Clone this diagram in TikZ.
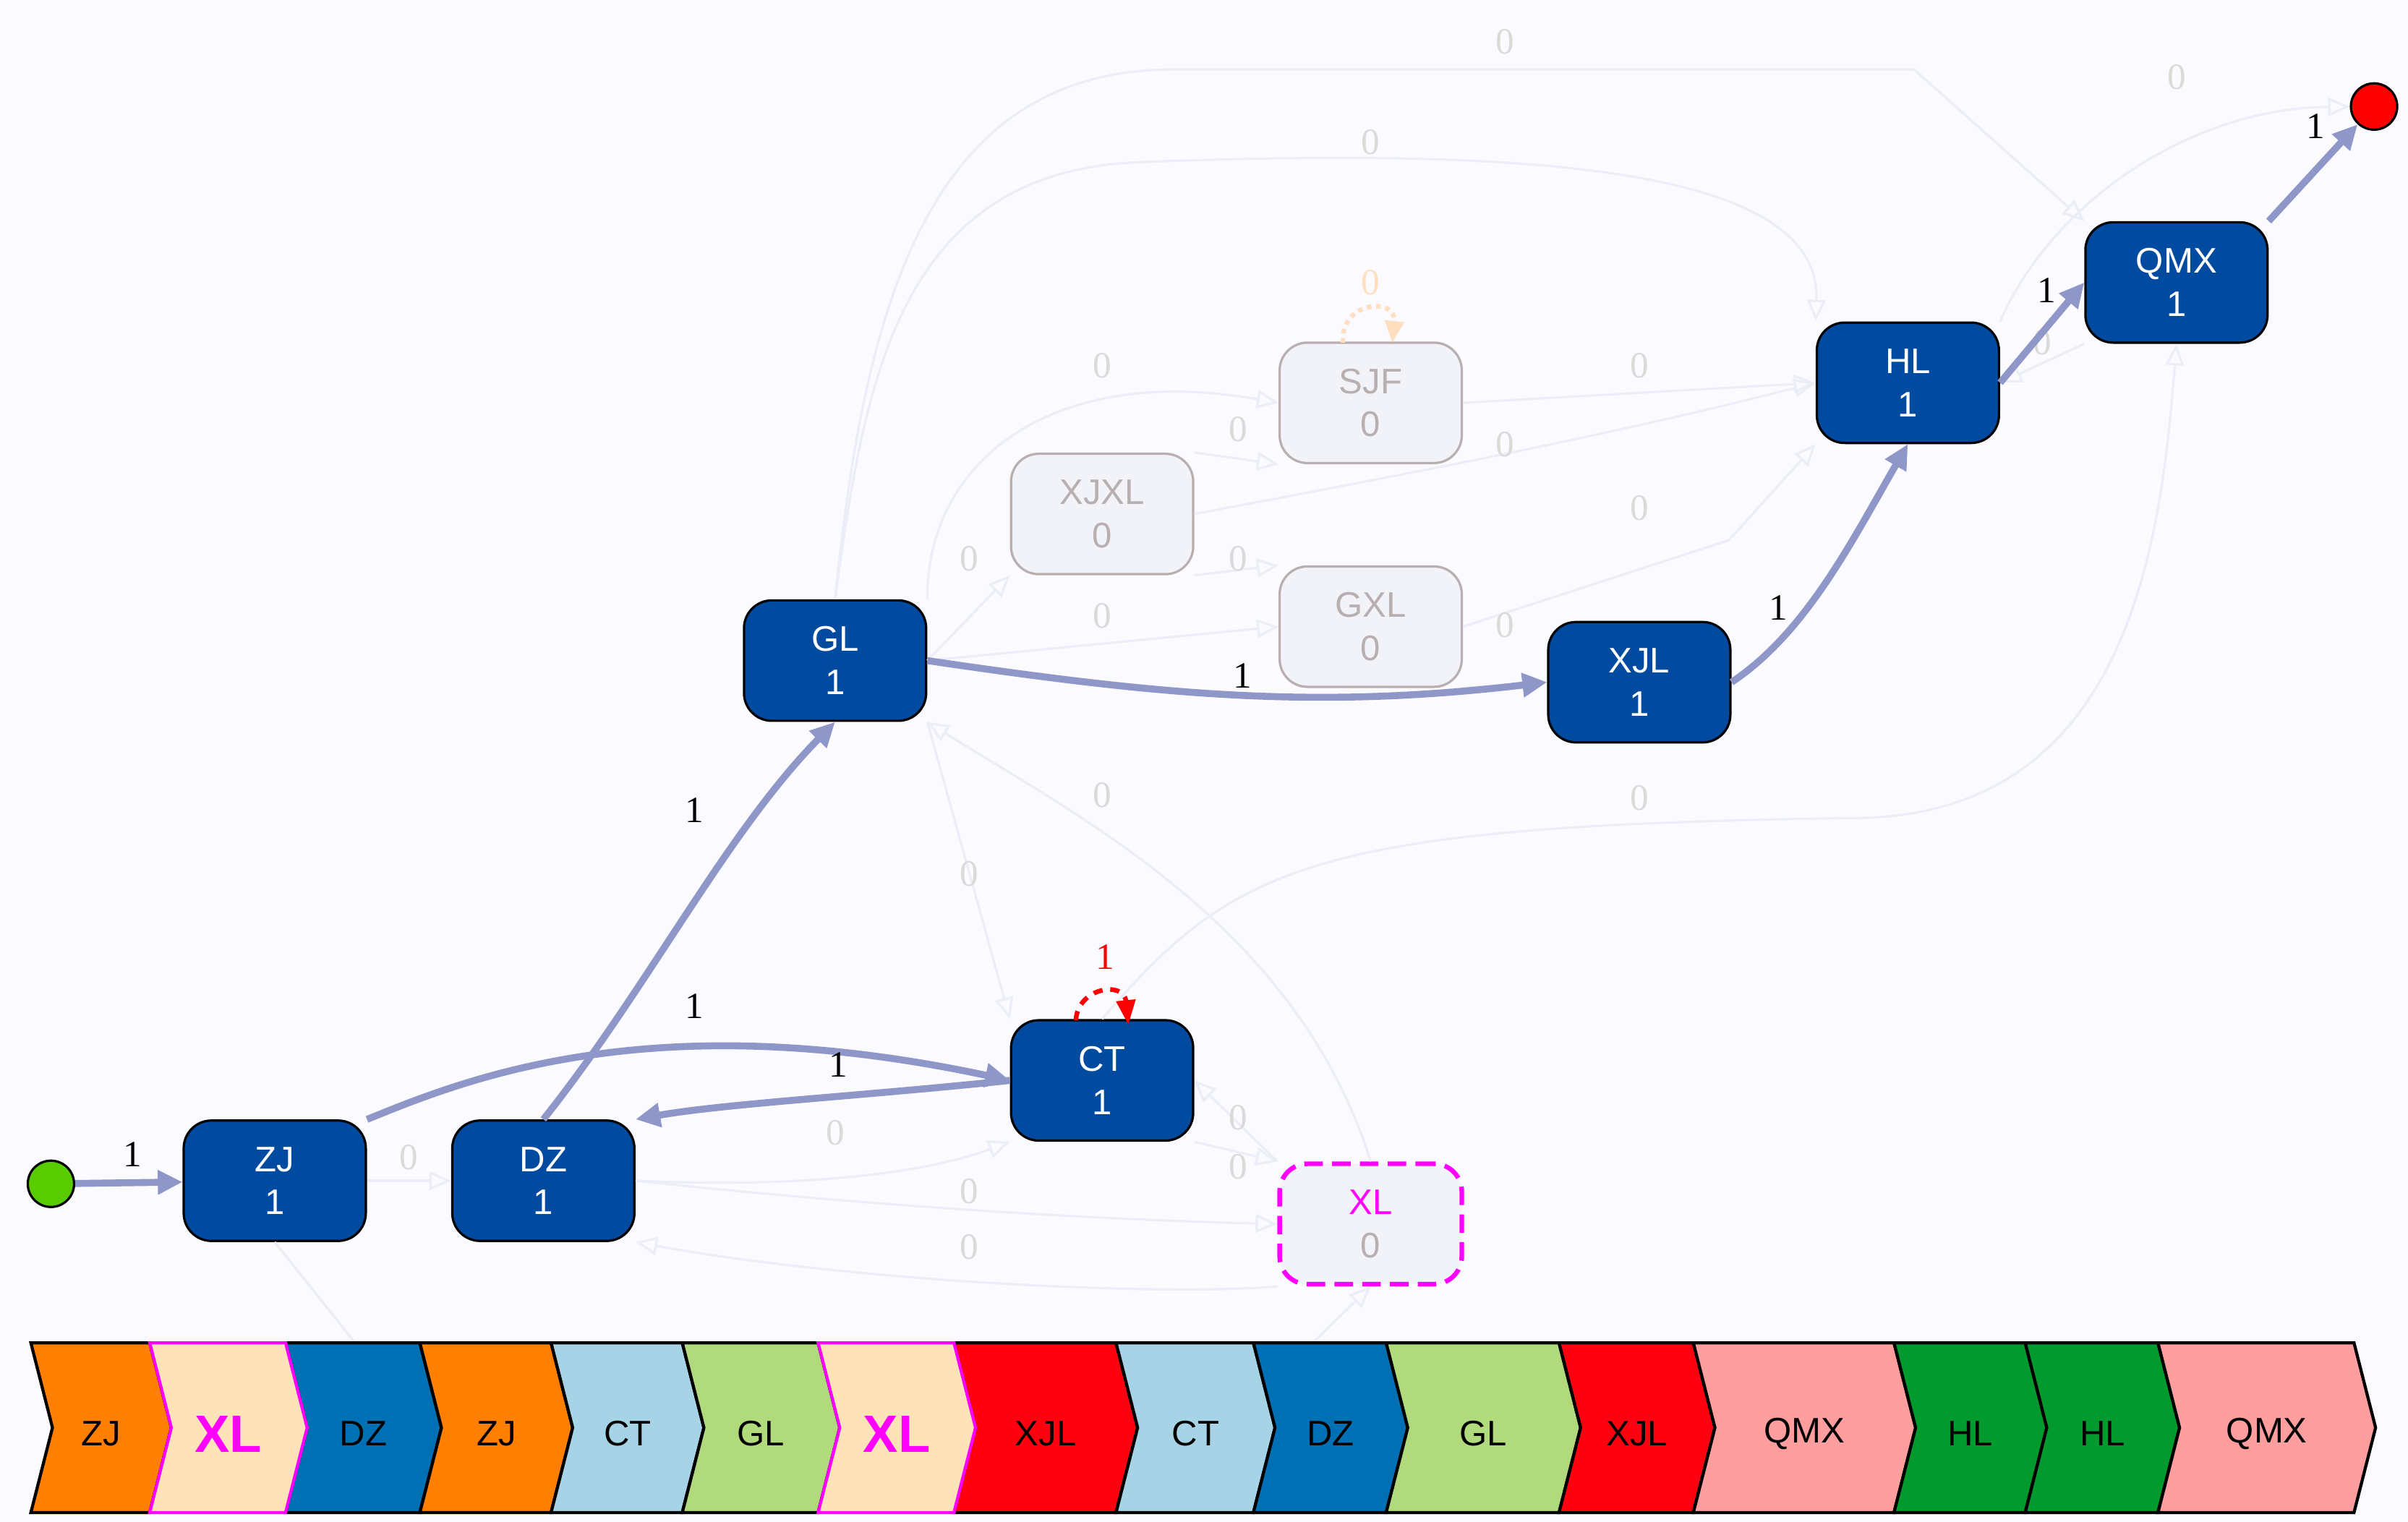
\documentclass[tikz,border=0pt]{standalone}
\usepackage{fontspec}
\setmainfont{Liberation Sans}
\newfontfamily\lser{Liberation Serif}
\usetikzlibrary{arrows.meta}
\definecolor{nblue}{HTML}{004AA0}
\definecolor{strong}{HTML}{8F96C8}
\definecolor{faint}{HTML}{ECEEF7}
\definecolor{lgray}{HTML}{DCDAD8}
\definecolor{ggray}{HTML}{B8B0B0}
\definecolor{mag}{HTML}{FF00FF}
\definecolor{cZJ}{HTML}{FF8000}
\definecolor{cXL}{HTML}{FFE3B8}
\definecolor{cDZ}{HTML}{0070B5}
\definecolor{cCT}{HTML}{A6D4E6}
\definecolor{cGL}{HTML}{B0DA7C}
\definecolor{cXJL}{HTML}{FF0010}
\definecolor{cQMX}{HTML}{FF9E9E}
\definecolor{cHL}{HTML}{009A2E}
\begin{document}
\begin{tikzpicture}[x=1pt,y=-1pt,
 act/.style={draw=black,line width=1.5pt,fill=nblue,text=white,rounded corners=18pt,minimum width=118pt,minimum height=78pt,align=center,font=\fontsize{23}{28}\selectfont},
 ina/.style={draw=ggray,line width=1.5pt,fill=faint!70!white,text=ggray,rounded corners=18pt,minimum width=118pt,minimum height=78pt,align=center,font=\fontsize{23}{28}\selectfont},
 se/.style={draw=strong,line width=4.5pt,-{Triangle[length=16pt,width=15pt]}},
 fe/.style={draw=faint,line width=1.5pt,-{Triangle[open,length=14pt,width=12pt]}},
 sl/.style={font=\lser\fontsize{24}{24}\selectfont,text=black},
 fl/.style={font=\lser\fontsize{24}{24}\selectfont,text=lgray,inner sep=1pt},
 chev/.style={draw=black,line width=2pt},
 stxt/.style={font=\fontsize{23}{23}\selectfont},
]
\fill[white!98!blue] (0,0) rectangle (1560,986);
\node[ina] (XJXL) at (714,333) {XJXL\\0};
\node[ina] (SJF) at (888,261) {SJF\\0};
\node[ina] (GXL) at (888,406) {GXL\\0};
\node[ina,draw=mag,line width=3pt,dash pattern=on 12pt off 6pt,text=mag] (XL) at (888,793) {XL\\\textcolor{ggray}{0}};
\node[act] (ZJ) at (178,765) {ZJ\\1};
\node[act] (DZ) at (352,765) {DZ\\1};
\node[act] (CT) at (714,700) {CT\\1};
\node[act] (GL) at (541,428) {GL\\1};
\node[act] (XJL) at (1062,442) {XJL\\1};
\node[act] (HL) at (1236,248) {HL\\1};
\node[act] (QMX) at (1410,183) {QMX\\1};
\node[circle,draw=black,line width=1.5pt,fill=green!50!olive!80!lime,minimum size=30pt,inner sep=0] (S) at (33,767) {};
\node[circle,draw=black,line width=1.5pt,fill=red,minimum size=30pt,inner sep=0] (E) at (1538,69) {};
% faint edges
\draw[fe] (ZJ) -- (DZ);
\draw[fe] (DZ.east) .. controls (520,770) and (600,760) .. (CT.south west);
\draw[fe] (DZ.east) .. controls (550,780) and (700,790) .. (XL.west);
\draw[fe] (XL.south west) .. controls (750,840) and (550,830) .. (DZ.south east);
\draw[fe] (CT.south east) -- (XL.north west);
\draw[fe] (XL.north west) -- (CT.east);
\draw[fe] (GL.east) -- (XJXL.south west);
\draw[fe] (GL.east) -- (GXL.west);
\draw[fe] (GL.south east) -- (CT.north west);
\draw[fe] (XL.north) .. controls (840,600) and (700,530) .. (GL.south east);
\draw[fe] (GL.north) .. controls (560,250) and (580,110) .. (740,105) .. controls (1000,95) and (1180,110) .. (HL.north west);
\draw[fe] (GL.north) .. controls (560,200) and (600,45) .. (760,45) -- (1240,45) -- (QMX.north west);
\draw[fe] (HL.north east) .. controls (1330,130) and (1420,70) .. (E);
\draw[fe] (GL.north east) .. controls (600,300) and (680,235) .. (SJF.west);
\draw[fe] (XJXL.north east) -- (SJF.south west);
\draw[fe] (XJXL.south east) -- (GXL.north west);
\draw[fe] (XJXL.east) .. controls (950,300) and (1050,280) .. (HL.west);
\draw[fe] (SJF.east) -- (HL.west);
\draw[fe] (GXL.east) -- (1120,350) -- (HL.south west);
\draw[fe] (GXL.south east) -- (XJL.west);
\draw[fe] (QMX.south west) -- (HL.east);
\draw[fe] (CT.north) .. controls (800,560) and (850,535) .. (1200,530) .. controls (1380,530) and (1400,350) .. (QMX.south);
\draw[faint,line width=1.5pt] (ZJ.south) -- (230,870);
\draw[fe] (840,880) -- (XL.south);
% faint labels
\foreach \x/\y [count=\i] in {265/750, 541/734, 628/772, 628/808, 802/724, 802/756, 628/362, 714/399, 628/566, 714/515, 888/92, 975/27, 1410/50, 714/237, 802/278, 802/362, 975/288, 1062/237, 1062/329, 975/405, 1323/222, 1062/517}
 \node[fl] (fl\i) at (\x,\y) {0};
% self loops
\draw[orange!25,line width=3pt,dashed,-{Triangle[length=14pt,width=12pt]}] (870,222) .. controls (868,195) and (905,192) .. (902,222);
\node[font=\lser\fontsize{24}{24}\selectfont,text=orange!25] (l0) at (888,183) {0};
\draw[red,line width=3pt,dash pattern=on 6pt off 5pt,-{Triangle[length=16pt,width=12pt]}] (697,661) .. controls (698,640) and (728,635) .. (731,664);
\node[font=\lser\fontsize{24}{24}\selectfont,text=red] (l1) at (716,620) {1};
% strong edges
\draw[se] (S) -- (ZJ);
\draw[se] (ZJ.north east) .. controls (300,700) and (420,650) .. (CT.west);
\draw[se] (CT.west) .. controls (560,710) and (470,715) .. (DZ.north east);
\draw[se] (DZ.north) .. controls (420,640) and (470,540) .. (GL.south);
\draw[se] (GL.east) .. controls (750,450) and (850,460) .. (XJL.west);
\draw[se] (XJL.east) .. controls (1170,410) and (1200,350) .. (HL.south);
\draw[se] (HL.east) -- (QMX.west);
\draw[se] (QMX.north east) -- (E);
\foreach \x/\y [count=\i] in {86/748, 450/652, 543/690, 450/525, 805/438, 1152/394, 1326/188, 1500/82}
 \node[sl] (sl\i) at (\x,\y) {1};
% strip
\def\ch#1#2#3#4#5{\fill[#4] (#1,870) -- (#2,870) -- (#2+14,925) -- (#2,980) -- (#1,980) -- (#1+14,925) -- cycle;
 \draw[#5] (#1,870) -- (#2,870) -- (#2+14,925) -- (#2,980) -- (#1,980) -- (#1+14,925) -- cycle;
 \node[stxt] (s#1) at ({(#1+#2)/2+7},929) {#3};}
\ch{20}{97}{ZJ}{cZJ}{chev}
\ch{185}{272}{DZ}{cDZ}{chev}
\ch{272}{357}{ZJ}{cZJ}{chev}
\ch{357}{442}{CT}{cCT}{chev}
\ch{442}{530}{GL}{cGL}{chev}
\ch{618}{723}{XJL}{cXJL}{chev}
\ch{723}{812}{CT}{cCT}{chev}
\ch{812}{898}{DZ}{cDZ}{chev}
\ch{898}{1010}{GL}{cGL}{chev}
\ch{1010}{1097}{XJL}{cXJL}{chev}
\ch{1097}{1227}{QMX}{cQMX}{chev}
\ch{1227}{1312}{HL}{cHL}{chev}
\ch{1312}{1398}{HL}{cHL}{chev}
\ch{1398}{1525}{QMX}{cQMX}{chev}
\ch{97}{185}{\fontsize{34}{34}\selectfont\bfseries\textcolor{mag}{XL}}{cXL}{draw=mag,line width=2pt}
\ch{530}{618}{\fontsize{34}{34}\selectfont\bfseries\textcolor{mag}{XL}}{cXL}{draw=mag,line width=2pt}
\end{tikzpicture}
\end{document}
